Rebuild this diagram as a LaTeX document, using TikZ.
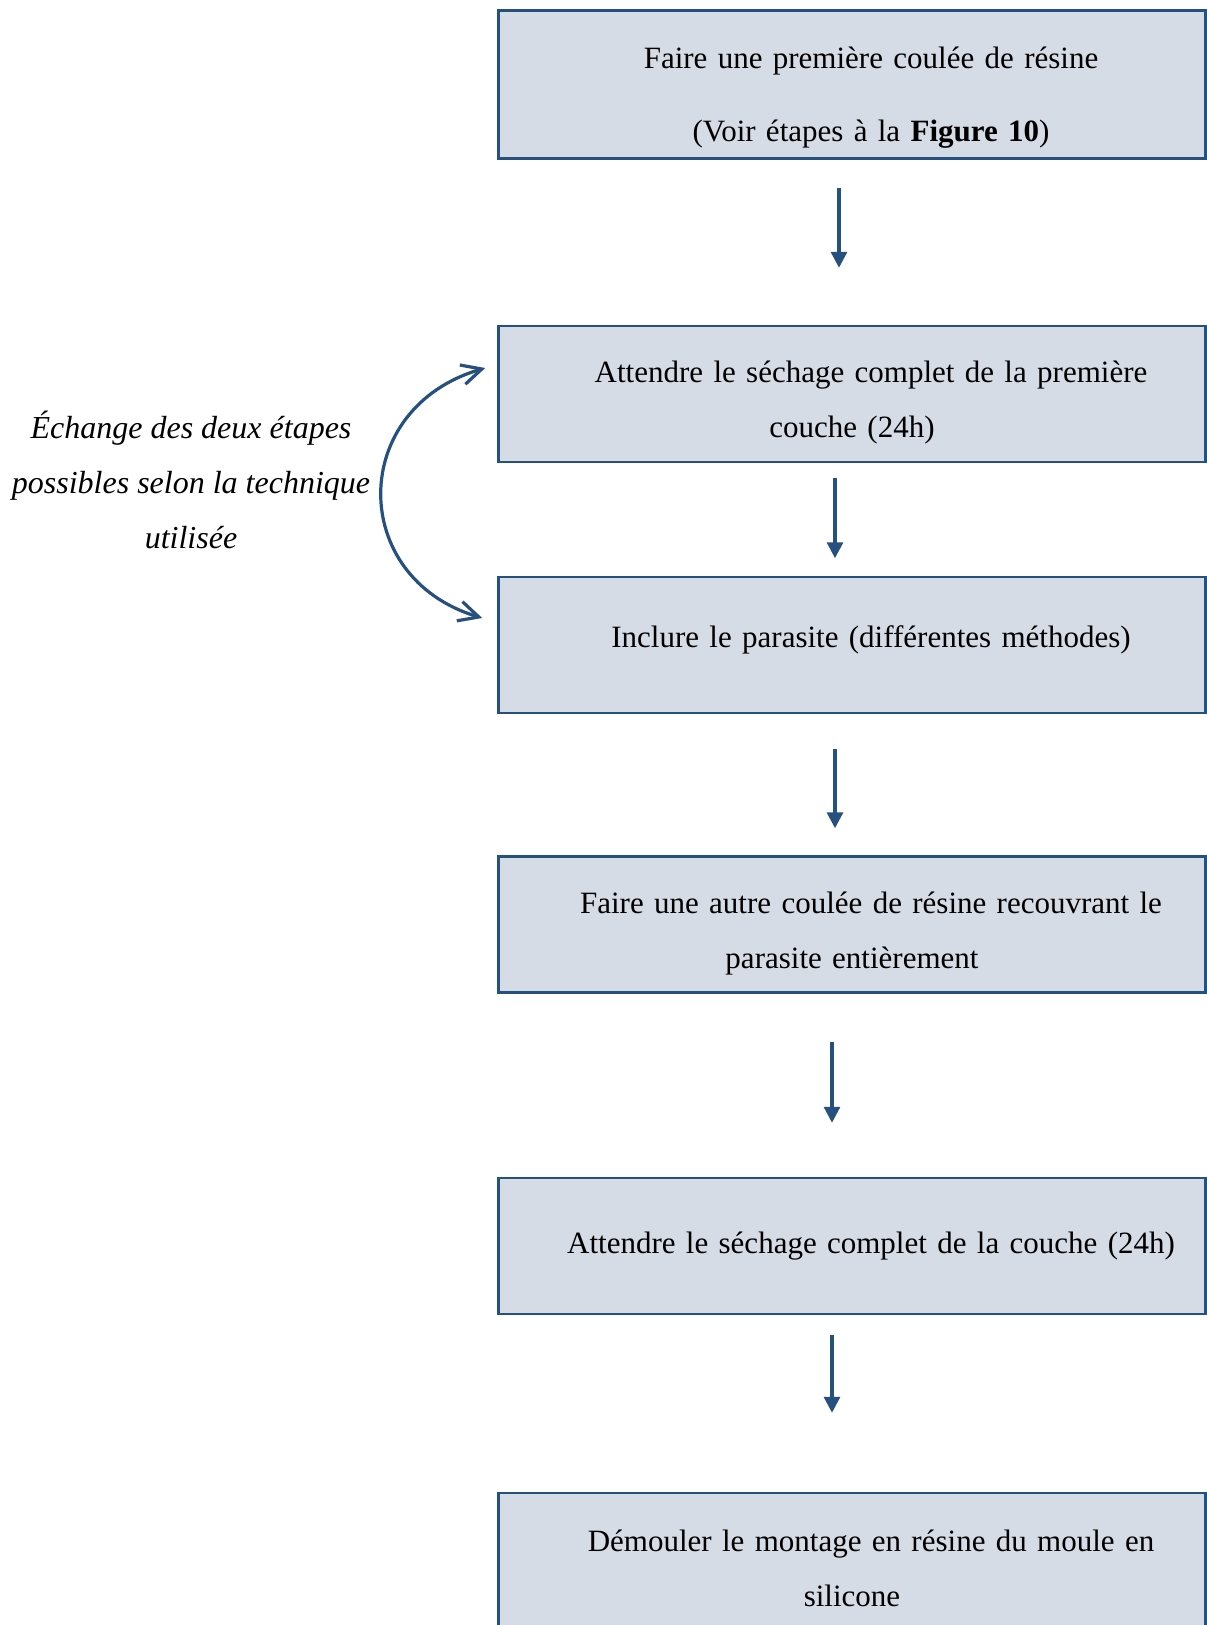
\documentclass[tikz,border=0pt]{standalone}
\usepackage{fontspec}
\setmainfont{Liberation Serif}
\usetikzlibrary{arrows.meta}

\definecolor{stepblue}{RGB}{38,80,125}
\definecolor{stepfill}{RGB}{214,220,229}
\newcommand{\firstind}{\hspace*{38pt}}
\newcommand{\topstrut}[1]{\rule{0pt}{#1}}

\begin{document}
\begin{tikzpicture}[x=1pt,y=-1pt,
    stepbox/.style={draw=stepblue,line width=2.5pt,fill=stepfill,minimum height=136pt,text width=707pt,inner xsep=0pt,align=center,font=\fontsize{31}{55}\selectfont},
    flow/.style={stepblue,line width=3.2pt,-{Triangle[length=16pt,width=16pt]}},
    exchange/.style={stepblue,line width=3.2pt,{Straight Barb[length=20pt,width=20pt]}-{Straight Barb[length=20pt,width=20pt]}}]
    \useasboundingbox (0,0) rectangle (1207,1625);
    % Steps
    \node (b1) at (852,84.5) [stepbox,minimum height=148pt] {\topstrut{48pt}\firstind Faire une première coulée de résine\\[18pt]\firstind(Voir étapes à la \textbf{Figure 10})};
    \node (b2) at (852,394) [stepbox] {\topstrut{39.5pt}\firstind Attendre le séchage complet de la première\\couche (24h)};
    \node (b3) at (852,645) [stepbox] {\firstind Inclure le parasite (différentes méthodes)\rule[-16pt]{0pt}{1pt}};
    \node (b4) at (852,924.5) [stepbox] {\topstrut{39.5pt}\firstind Faire une autre coulée de résine recouvrant le\\parasite entièrement};
    \node (b5) at (852,1246) [stepbox] {\firstind Attendre le séchage complet de la couche (24h)};
    \node (b6) at (852,1561) [stepbox] {\topstrut{37pt}\firstind Démouler le montage en résine du moule en\\silicone};
    % Arrows
    \draw[flow,shorten <=28pt,shorten >=57pt] ([xshift=-13pt]b1.south) -- ([xshift=-13pt]b2.north);
    \draw[flow,shorten <=14.6pt,shorten >=17.5pt] ([xshift=-17pt]b2.south) -- ([xshift=-17pt]b3.north);
    \draw[flow,shorten <=35pt,shorten >=27pt] ([xshift=-17pt]b3.south) -- ([xshift=-17pt]b4.north);
    \draw[flow,shorten <=48pt,shorten >=54pt] ([xshift=-20pt]b4.south) -- ([xshift=-20pt]b5.north);
    \draw[flow,shorten <=19.5pt,shorten >=79pt] ([xshift=-20pt]b5.south) -- ([xshift=-20pt]b6.north);
    % Exchange of the two steps
    \draw[exchange] ([xshift=-12pt,yshift=26pt]b2.west) .. controls (348,408) and (348,578) .. ([xshift=-15pt,yshift=27pt]b3.west);
    \node (note) at (191,480) [align=center,font=\itshape\fontsize{32}{55}\selectfont] {Échange des deux étapes\\possibles selon la technique\\utilisée};
\end{tikzpicture}
\end{document}
